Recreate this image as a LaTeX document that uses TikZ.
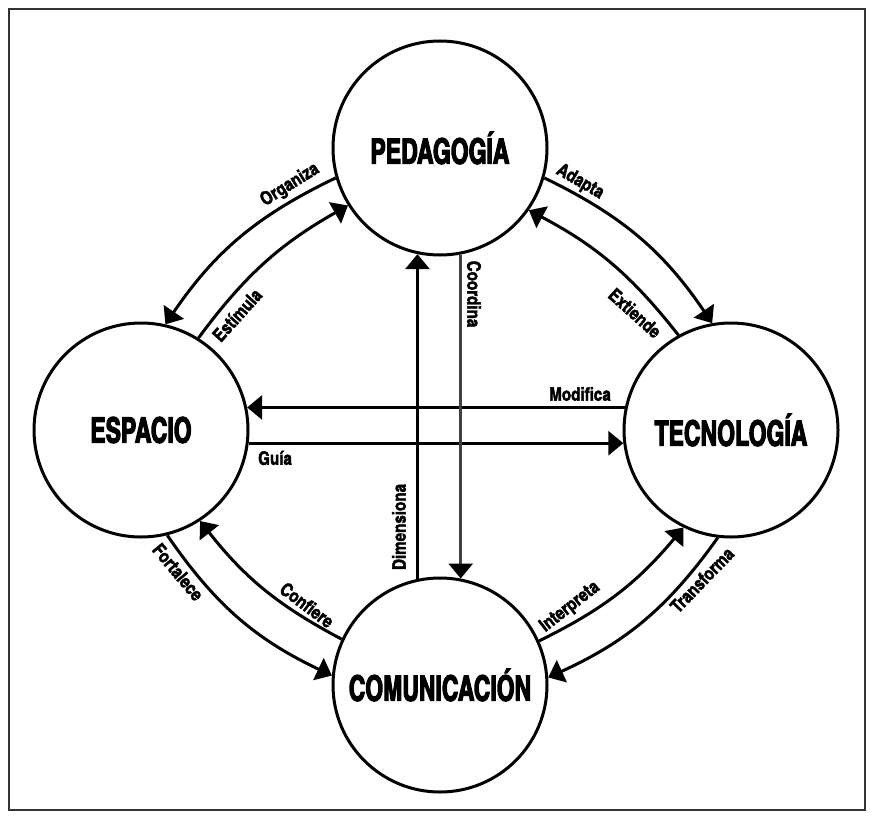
\documentclass[tikz,border=0pt]{standalone}
\usepackage{fontspec}
\newfontfamily\diagfont{texgyreheroscn-bold.otf}[FakeBold=3, FakeStretch=0.8]
\newfontfamily\tagfont{texgyreheroscn-bold.otf}[FakeBold=2]
\usetikzlibrary{arrows.meta}

\tikzset{
  concept/.style={circle, draw, line width=3pt, minimum size=214pt, inner sep=0pt,
    font=\diagfont\fontsize{35}{35}\selectfont},
  flow/.style={line width=3pt, -{Triangle[length=15pt, width=24pt, color=black]}},
  tag/.style={font=\tagfont\fontsize{18.5}{18.5}\selectfont, inner sep=0pt},
}

\begin{document}
\begin{tikzpicture}[x=1pt, y=-1pt]
  \useasboundingbox (0,0) rectangle (874,816);
  \draw[black!80, line width=1.5pt] (9,9) rectangle (865,810);

  \node[concept] (ped) at (440,148) {PEDAGOGÍA};
  \node[concept] (esp) at (141,430) {ESPACIO};
  \node[concept] (tec) at (731,430) {TECNOLOGÍA};
  \node[concept] (com) at (440,685) {COMUNICACIÓN};

  % horizontal
  \draw[flow] (tec.168) -- (esp.12);
  \draw[flow] (esp.-7) -- (tec.187);
  % vertical
  \draw[flow] (com.102) -- (ped.258);
  \draw[flow, draw=black!75] (ped.281) -- (com.79);

  % arcs
  \draw[flow] (ped.196) to[bend right=15] (esp.77);
  \draw[flow] (esp.58) to[bend left=12] (ped.212);
  \draw[flow] (ped.344) to[bend left=15] (tec.100);
  \draw[flow] (tec.119) to[bend right=12] (ped.325);
  \draw[flow] (esp.284) to[bend right=15] (com.175);
  \draw[flow] (com.155) to[bend left=12] (esp.303);
  \draw[flow] (com.24) to[bend right=12] (tec.244);
  \draw[flow] (tec.263) to[bend left=15] (com.4);

  % labels
  \node[tag] (modifica) at (580,394) {Modifica};
  \node[tag] (guia) at (275,458) {Guía};
  \node[tag, rotate=-90] (coordina) at (474,294) {Coordina};
  \node[tag, rotate=90] (dimensiona) at (399,527) {Dimensiona};
  \node[tag, rotate=32] (organiza) at (290,185) {Organiza};
  \node[tag, rotate=48] (estimula) at (237,315) {Estímula};
  \node[tag, rotate=-30] (adapta) at (580,182) {Adapta};
  \node[tag, rotate=-42] (extiende) at (635,313) {Extiende};
  \node[tag, rotate=-50] (fortalece) at (178,572) {Fortalece};
  \node[tag, rotate=-37] (confiere) at (307,605) {Confiere};
  \node[tag, rotate=38] (interpreta) at (570,607) {Interpreta};
  \node[tag, rotate=46] (transforma) at (702,580) {Transforma};
\end{tikzpicture}
\end{document}
